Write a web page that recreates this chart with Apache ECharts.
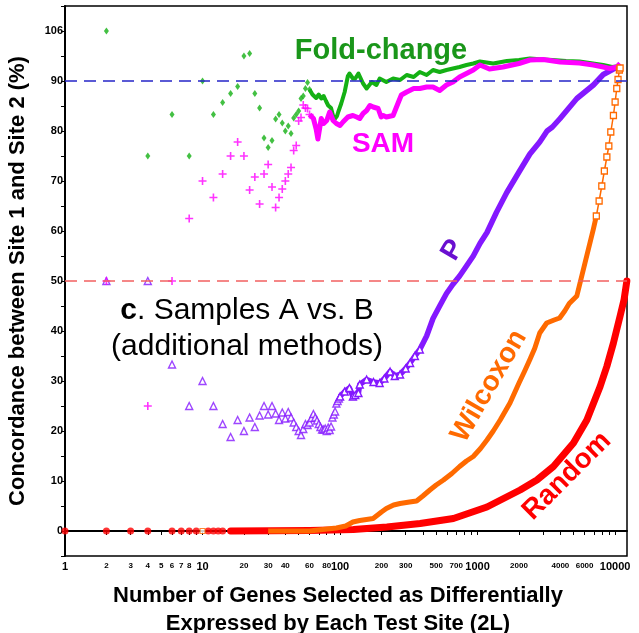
<!DOCTYPE html>
<html><head><meta charset="utf-8">
<script src="https://cdn.jsdelivr.net/npm/echarts@6/dist/echarts.min.js"></script>
<style>html,body{margin:0;padding:0;background:#fff}#c{width:639px;height:633px}</style>
</head><body><div id="c"></div>
<script>
// ---------- data ----------
const foldSparseN = [2,4,6,8,10,12,14,16,18,20,22,24,26,28,30,32,34,36,38,40,42,44,46,48,50,52,54,56,58,60];
const foldSparseV = [100,75,83.3,75,90,83.3,85.7,87.5,88.9,95,95.5,87.5,84.6,78.6,76.7,78.1,82.4,83.3,81.6,80,81,79.5,82.6,83.3,84,86.5,87,88.5,89.7,88.3];
const foldDenseN = [60,63,67,70,73,76,79,82,86,89,92,95,97,102,108,114,117,124,129,136,147,156,170,184,194,217,243,273,305,343,380,426,474,530,594,662,740,830,930,1040,1300,1630,2000,2400,3000,3500,4400,5500,6900,8200,9500,10870];
const foldDenseV = [88.3,87.3,86.6,87.3,86.5,87,86,85.1,84.6,83,82.5,83,83.8,85.5,87.8,91,91.5,90.5,90.5,91.5,89.5,88.5,89.8,89.2,90.5,89.8,90.5,90.2,91.2,90.8,91.8,91.2,92.2,91.8,92.2,92.5,92.8,93.2,93.5,93.9,93.5,94,94.2,94.5,94.3,94.2,94,93.9,93.5,93.2,92.8,93];

const samSparseN = [2,4,6,8,10,12,14,16,18,20,22,24,26,28,30,32,34,36,38,40,42,44,46,48,50,52,54,56,58,60];
const samSparseV = [50,25,50,62.5,70,66.7,71.4,75,77.8,75,68.2,70.8,65.4,71.4,73.3,68.8,64.7,66.7,68.4,70,71.4,72.7,76.1,77.1,82,82.7,85.2,84.6,84.5,83.3];
const samDenseN = [60,62,64,67,69,71,73,76,80,84,89,94,100,105,114,124,132,139,147,156,165,174,189,199,206,217,243,266,279,305,343,380,426,474,530,594,662,740,830,930,1040,1220,1530,2000,2400,3000,3980,5500,6950,8200,9130,10280,10870];
const samDenseV = [83.3,83.1,82.5,80.4,78.4,80.5,82.5,81.5,82.1,83.8,82.1,81.5,81.1,81.8,82.8,83.1,82.8,82.5,83.5,84.1,85.1,84.8,84.5,82.8,83.1,82.8,83.1,85.8,87.2,87.8,88.5,88.5,88.8,88.8,88.1,89.2,89.8,90.8,91.5,92.2,93.2,92.4,92.8,93.5,94.2,94.3,93.8,93.6,93.2,92.8,92.5,92.8,93.5];

const pSparseN = [2,4,6,8,10,12,14,16,18,20,22,24,26,28,30,32,34,36,38,40,42,44,46,48,50,52,54,56,58,60,62,64,66,68,70,72,74,76,78,80,82,84,86,88,90,92,94,96,98];
const pSparseV = [50,50,33.3,25,30,25,21.4,18.8,22.2,20,22.7,20.8,23.1,25,23.3,25,23.5,22.2,23.7,22.5,23.8,22.7,21.7,20.8,20,19.2,20.4,21.4,21.2,21.7,22.6,23.4,22.7,22.1,21.4,20.8,20.3,20.3,20.5,20,20.7,20.2,20.9,22.7,23.3,23.9,25.5,26,26.5];
const pDenseN = [100,108,117,124,129,136,139,156,175,194,210,231,250,273,300,323,350,380,426,474,530,594,660,740,830,930,1040,1170,1370,1630,2000,2400,2830,3200,3500,3980,4420,5270,6950,8200,9720,10870];
const pDenseV = [26.9,27.9,28.6,26.9,27.2,27.6,29.3,30.3,29.8,29.6,30.5,31.9,31,31.3,32.5,33.6,35,36.3,39,42.5,45,47.5,49.3,51,53,55,57.5,59.7,63.7,67.7,71.8,75.4,77.8,80,80.8,82.5,84,86.5,89.2,91.3,92.4,93];

const wilSparseN = [10,26];
const wilSparseV = [0,0];
const wilDenseN = [30,60,94,110,124,139,174,200,217,245,273,320,360,400,450,500,565,650,740,830,930,1050,1170,1300,1460,1720,2000,2200,2400,2600,2830,3180,3600,3950,4300,4640,5266,6050,6950,7300];
const wilDenseV = [0,0,0.6,1,1.8,2.1,2.5,3.8,4.5,5.2,5.5,5.8,6,7,8.2,9.2,10.2,11.5,12.9,14,14.9,16.5,18.2,20,22.2,25.6,29.6,32,34.3,36.5,39.6,41.6,42.2,42.6,44,45.5,47,53.7,60.4,63];
const wilSteepN = [7300,7650,8000,8350,8710,9000,9300,9720,10000,10280,10500,10740,10870];
const wilSteepV = [63,66,69,72,74.8,77,79.8,83.1,85.8,88.5,90.3,92.2,92.6];

const randSparseN = [1,2,3,4,6,7,8,9,11,12,13,14];
const randSparseV = [0,0,0,0,0,0,0,0,0,0,0,0];
const randDenseN = [16,60,125,219,382,667,1170,2040,2700,3560,4980,6230,7780,8700,9720,10870,11620,12170];
const randDenseV = [0,0.1,0.3,0.8,1.5,2.5,4.8,8.2,10.2,12.9,17.6,22.2,28.9,32.9,37.6,43,46.3,50];

const refLines = [90, 50];

const yTickValues = [0,10,20,30,40,50,60,70,80,90,100];
const yTickLabels = ['0','10','20','30','40','50','60','70','80','90','106'];
const xLabelValues = [1,2,3,4,5,6,7,8,10,20,30,40,60,80,100,200,300,500,700,1000,2000,4000,6000,10000];
const xMajorLabels = [1,10,100,1000,10000];
const xTickValues = [];
[1,10,100,1000].forEach(d => { for (let k = 1; k <= 9; k++) xTickValues.push(k * d); });
xTickValues.push(10000);

// ---------- chart ----------
const FONT = "'Liberation Sans', Arial, sans-serif";
const zip = (a, b) => a.map((x, i) => [x, b[i]]);
const PLUS = 'path://M4,0L6,0L6,4L10,4L10,6L6,6L6,10L4,10L4,6L0,6L0,4L4,4Z';
const C = { fold:'#14b014', sam:'#ff00ff', p:'#8418ff', wil:'#ff6a00', rand:'#ff0000' };

const chart = echarts.init(document.getElementById('c'), null, {renderer:'canvas'});
chart.setOption({
  animation: false,
  grid: { left: 65, right: 12, top: 6, bottom: 77, show: true, borderColor: '#000', borderWidth: 1.5, outerBoundsMode: 'none', containLabel: false },
  xAxis: {
    type: 'log', logBase: 10, min: 1, max: 12200,
    name: 'Number of Genes Selected as Differentially\nExpressed by Each Test Site (2L)',
    nameLocation: 'middle', nameGap: 26,
    nameTextStyle: { fontFamily: FONT, fontWeight: 'bold', fontSize: 22, lineHeight: 28, color: '#000', padding: [0, 16, 0, 0] },
    axisLine: { show: true, lineStyle: { color: '#000', width: 2 } },
    axisTick: { show: true, length: 4, customValues: xTickValues, lineStyle: { color: '#000', width: 1 } },
    axisLabel: {
      show: true, margin: 5, hideOverlap: false, customValues: xLabelValues, color: '#000',
      formatter: v => { const r = Math.round(v); return xMajorLabels.indexOf(r) >= 0 ? '{b|' + r + '}' : '{s|' + r + '}'; },
      rich: {
        b: { fontFamily: FONT, fontWeight: 'bold', fontSize: 11, lineHeight: 12, color: '#000' },
        s: { fontFamily: FONT, fontWeight: 'bold', fontSize: 8, lineHeight: 9, color: '#000' }
      }
    },
    splitLine: { show: false }, minorTick: { show: false }
  },
  yAxis: {
    type: 'value', min: -5, max: 105, interval: 5,
    name: 'Concordance between Site 1 and Site 2 (%)',
    nameLocation: 'middle', nameGap: 36, nameRotate: 90,
    nameTextStyle: { fontFamily: FONT, fontWeight: 'bold', fontSize: 22, color: '#000' },
    axisLine: { show: true, lineStyle: { color: '#000', width: 2 } },
    axisTick: { show: true, length: 4, lineStyle: { color: '#000', width: 1 } },
    axisLabel: {
      margin: 2, color: '#000', fontFamily: FONT, fontWeight: 'bold', fontSize: 11, hideOverlap: false,
      formatter: v => { const i = yTickValues.indexOf(v); return i >= 0 ? yTickLabels[i] : ''; }
    },
    splitLine: { show: false }
  },
  series: [
    { type: 'scatter', name: 'RandomSparse', data: zip(randSparseN, randSparseV), symbol: 'circle', symbolSize: 7,
      itemStyle: { color: C.rand },
      markLine: { silent: true, symbol: ['none','none'], label: { show: false },
        data: [
          { yAxis: refLines[0], lineStyle: { color: '#2424c8', type: [12, 7], width: 1.5 } },
          { yAxis: refLines[1], lineStyle: { color: '#f26060', type: [12, 7], width: 1.5 } }
        ] } },
    { type: 'line', name: 'Random', data: zip(randDenseN, randDenseV), showSymbol: false, symbol: 'none',
      lineStyle: { color: C.rand, width: 7, cap: 'round', join: 'round' } },
    { type: 'line', name: 'P', data: pDenseN.map((n, i) => ({ value: [n, pDenseV[i]], symbol: n < 400 ? 'triangle' : 'none' })),
      showSymbol: true, symbolSize: 7,
      itemStyle: { color: '#fff', borderColor: C.p, borderWidth: 1.4 },
      lineStyle: { color: C.p, width: 5.5, join: 'round' } },
    { type: 'scatter', name: 'PSparse', data: zip(pSparseN, pSparseV), symbol: 'triangle', symbolSize: 7,
      itemStyle: { color: '#fff', borderColor: C.p, borderWidth: 1.4 } },
    { type: 'scatter', name: 'WilSparse', data: zip(wilSparseN, wilSparseV), symbol: 'rect', symbolSize: 5,
      itemStyle: { color: '#fff', borderColor: C.wil, borderWidth: 1.2 } },
    { type: 'line', name: 'Wilcoxon', data: zip(wilDenseN, wilDenseV), showSymbol: false, symbol: 'none',
      lineStyle: { color: C.wil, width: 5, join: 'round' } },
    { type: 'line', name: 'WilcoxonSteep', data: zip(wilSteepN, wilSteepV), showSymbol: true, symbol: 'rect', symbolSize: 6,
      itemStyle: { color: '#fff', borderColor: C.wil, borderWidth: 1.3 },
      lineStyle: { color: C.wil, width: 1.5 } },
    { type: 'scatter', name: 'FoldSparse', data: zip(foldSparseN, foldSparseV), symbol: 'diamond', symbolSize: [5, 7],
      itemStyle: { color: C.fold } },
    { type: 'line', name: 'Fold-change', data: zip(foldDenseN, foldDenseV), showSymbol: false, symbol: 'none',
      lineStyle: { color: C.fold, width: 4, join: 'round' } },
    { type: 'scatter', name: 'SAMSparse', data: zip(samSparseN, samSparseV), symbol: PLUS, symbolSize: 8,
      itemStyle: { color: C.sam } },
    { type: 'line', name: 'SAM', data: zip(samDenseN, samDenseV), showSymbol: false, symbol: 'none',
      lineStyle: { color: C.sam, width: 5, join: 'round' } }
  ],
  graphic: [
    { type: 'text', x: 381, y: 51, style: { text: 'Fold-change', fill: '#1a961a', font: 'bold 29px ' + FONT, align: 'center', verticalAlign: 'middle', textAlign: 'center', textVerticalAlign: 'middle' } },
    { type: 'text', x: 383, y: 144, style: { text: 'SAM', fill: '#ff00ff', font: 'bold 28px ' + FONT, align: 'center', verticalAlign: 'middle', textAlign: 'center', textVerticalAlign: 'middle' } },
    { type: 'text', x: 453, y: 250, rotation: Math.PI / 3, style: { text: 'P', fill: '#6a0fd0', font: 'bold 28px ' + FONT, align: 'center', verticalAlign: 'middle', textAlign: 'center', textVerticalAlign: 'middle' } },
    { type: 'text', x: 489, y: 386, rotation: Math.PI / 3, style: { text: 'Wilcoxon', fill: '#ff6a00', font: 'bold 28px ' + FONT, align: 'center', verticalAlign: 'middle', textAlign: 'center', textVerticalAlign: 'middle' } },
    { type: 'text', x: 567, y: 476, rotation: Math.PI / 4, style: { text: 'Random', fill: '#ff0000', font: 'bold 28px ' + FONT, align: 'center', verticalAlign: 'middle', textAlign: 'center', textVerticalAlign: 'middle' } },
    { type: 'text', x: 247, y: 311, style: { text: '{b|c}{n|. Samples A vs. B}', align: 'center', verticalAlign: 'middle', textAlign: 'center', textVerticalAlign: 'middle',
        rich: { b: { fontFamily: FONT, fontWeight: 'bold', fontSize: 30, fill: '#000', color: '#000' }, n: { fontFamily: FONT, fontSize: 30, fill: '#000', color: '#000' } } } },
    { type: 'text', x: 247, y: 347, style: { text: '(additional methods)', fill: '#000', font: '30px ' + FONT, align: 'center', verticalAlign: 'middle', textAlign: 'center', textVerticalAlign: 'middle' } }
  ]
});
</script></body></html>
